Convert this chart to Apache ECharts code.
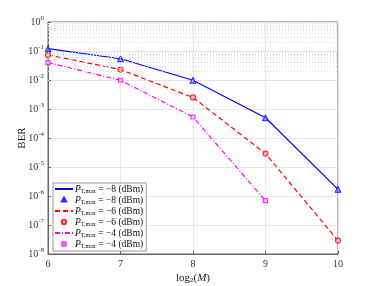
<!DOCTYPE html>
<html><head><meta charset="utf-8">
<script src="https://cdn.jsdelivr.net/npm/echarts@6/dist/echarts.min.js"></script>
<style>html,body{margin:0;padding:0;background:#fff}#c{width:374px;height:286px}</style>
</head><body><div id="c"></div>
<script>
const xs = [6, 7, 8, 9, 10];
const berM8 = [0.12, 0.054, 0.0098, 5.0e-4, 1.7e-6];
const berM6 = [0.073, 0.023, 0.0025, 2.9e-5, 2.9e-8];
const berM4 = [0.040, 0.0098, 5.3e-4, 6.9e-7];
const powers = ['−8', '−6', '−4'];
const xTicks = [6, 7, 8, 9, 10];

const pairs = a => a.map((v, i) => [xs[i], v]);
const minorVals = [];
for (let e = -8; e < 0; e++) for (let k = 2; k <= 9; k++) minorVals.push({yAxis: k * Math.pow(10, e)});

const serif = 'Liberation Serif, DejaVu Serif, serif';
const names = ['l8', 'm8', 'l6', 'm6', 'l4', 'm4'];
const labelFor = {l8: powers[0], m8: powers[0], l6: powers[1], m6: powers[1], l4: powers[2], m4: powers[2]};
// legend marker icons: small shapes centred in an 18x10 box (the moveTo points set the box)
const box = 'M0,0 M18,10 ';
const icons = {
  m8: 'path://' + box + 'M9,2.6 L11.2,6.6 L6.8,6.6 Z',
  m6: 'path://' + box + 'M11.2,5 A2.2,2.2 0 1 1 6.8,5 A2.2,2.2 0 1 1 11.2,5 Z',
  m4: 'path://' + box + 'M7.3,3.3 L10.7,3.3 L10.7,6.7 L7.3,6.7 Z'
};
const legendData = names.map(n => icons[n] ? {name: n, icon: icons[n]} : {name: n});

const chart = echarts.init(document.getElementById('c'), null, {renderer: 'canvas'});
chart.setOption({
  animation: false,
  backgroundColor: '#fff',
  grid: {left: 48, right: 36, top: 22, bottom: 32, show: true, borderColor: '#666', borderWidth: 1,
         outerBoundsMode: 'none', containLabel: false},
  legend: {
    orient: 'vertical', left: 53, top: 183, itemGap: 0, itemWidth: 18, itemHeight: 10,
    padding: [1, 3, 1, 1], symbolKeepAspect: true,
    backgroundColor: '#fff', borderColor: '#999', borderWidth: 1,
    data: legendData,
    formatter: n => '{i|P}{s|T,max}{t| = ' + labelFor[n] + ' (dBm)}',
    textStyle: {
      fontFamily: serif, fontSize: 9.5, color: '#111', lineHeight: 9, padding: [0, 0, 0, -3],
      rich: {
        i: {fontFamily: serif, fontSize: 9.5, fontStyle: 'italic', color: '#111', lineHeight: 9},
        s: {fontFamily: serif, fontSize: 6, color: '#111', lineHeight: 5, padding: [4, 0, 0, 0]},
        t: {fontFamily: serif, fontSize: 9.5, color: '#111', lineHeight: 9}
      }
    }
  },
  xAxis: {
    type: 'value', min: 6, max: 10, interval: 1,
    name: 'log{s|2}({i|M})', nameLocation: 'middle', nameGap: 18, nameMoveOverlap: false,
    nameTextStyle: {fontFamily: serif, fontSize: 11, color: '#222',
      rich: {s: {fontFamily: serif, fontSize: 7, padding: [5, 0, 0, 0], color: '#222'},
             i: {fontFamily: serif, fontSize: 11, fontStyle: 'italic', color: '#222'}}},
    axisLine: {show: true, lineStyle: {color: '#666'}},
    axisTick: {inside: true, length: 3, lineStyle: {color: '#666'}},
    axisLabel: {fontFamily: serif, fontSize: 10, color: '#333', margin: 5,
      formatter: v => xTicks.includes(v) ? String(v) : ''},
    splitLine: {show: true, lineStyle: {color: '#e8e8e8', width: 1}}
  },
  yAxis: {
    type: 'log', logBase: 10, min: 1e-8, max: 1,
    name: 'BER', nameLocation: 'middle', nameGap: 20, nameMoveOverlap: false,
    nameTextStyle: {fontFamily: serif, fontSize: 11, color: '#222'},
    axisLine: {show: true, lineStyle: {color: '#666'}},
    axisTick: {inside: true, length: 3, lineStyle: {color: '#666'}},
    axisLabel: {
      fontFamily: serif, fontSize: 10, color: '#333', margin: 4,
      formatter: v => '{b|10}{p|' + Math.round(Math.log10(v)) + '}',
      rich: {
        b: {fontFamily: serif, fontSize: 10, color: '#333'},
        p: {fontFamily: serif, fontSize: 7, color: '#333', padding: [0, 0, 7, 0]}
      }
    },
    splitLine: {show: true, lineStyle: {color: '#e6e6e6', width: 1}}
  },
  series: [
    {name: 'l8', type: 'line', data: pairs(berM8), showSymbol: false, symbol: 'circle',
     lineStyle: {color: '#0000ff', width: 1.2}, itemStyle: {color: 'rgba(0,0,0,0)'}, z: 3,
     markLine: {silent: true, symbol: 'none', label: {show: false},
       lineStyle: {color: '#dcdcdc', type: [1, 2], width: 1}, data: minorVals}},
    {name: 'm8', type: 'scatter', data: pairs(berM8), symbol: 'triangle', symbolSize: 6,
     itemStyle: {color: '#6f6fff', borderColor: '#0000ff', borderWidth: 1}, z: 4},
    {name: 'l6', type: 'line', data: pairs(berM6), showSymbol: false, symbol: 'circle',
     lineStyle: {color: '#ff0000', width: 1.2, type: [5, 3]}, itemStyle: {color: 'rgba(0,0,0,0)'}, z: 3},
    {name: 'm6', type: 'scatter', data: pairs(berM6), symbol: 'circle', symbolSize: 5,
     itemStyle: {color: '#ffc0c0', borderColor: '#ff0000', borderWidth: 1.2}, z: 4},
    {name: 'l4', type: 'line', data: pairs(berM4), showSymbol: false, symbol: 'circle',
     lineStyle: {color: '#ff00ff', width: 1.2, type: [5, 2, 1, 2]}, itemStyle: {color: 'rgba(0,0,0,0)'}, z: 3},
    {name: 'm4', type: 'scatter', data: pairs(berM4), symbol: 'rect', symbolSize: 4,
     itemStyle: {color: '#ffc0ff', borderColor: '#ff00ff', borderWidth: 1.2}, z: 4}
  ]
});
</script></body></html>
